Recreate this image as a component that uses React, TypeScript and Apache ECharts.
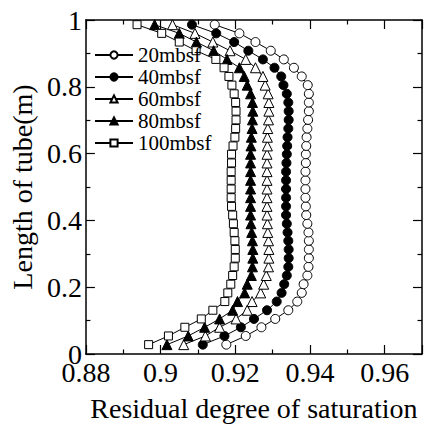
import React, { useEffect, useRef } from "react";
import * as echarts from "echarts";

const yNodes = [0.028, 0.054, 0.080, 0.105, 0.131, 0.157, 0.183, 0.209, 0.235, 0.261, 0.287, 0.313, 0.339, 0.364, 0.390, 0.416, 0.442, 0.468, 0.494, 0.520, 0.546, 0.572, 0.598, 0.623, 0.649, 0.675, 0.701, 0.727, 0.753, 0.779, 0.805, 0.831, 0.857, 0.882, 0.908, 0.934, 0.960, 0.986];

const s20 = [0.9176, 0.9228, 0.9270, 0.9307, 0.9342, 0.9366, 0.9378, 0.9383, 0.9393, 0.9396, 0.9397, 0.9397, 0.9397, 0.9396, 0.9393, 0.9390, 0.9389, 0.9388, 0.9388, 0.9388, 0.9388, 0.9389, 0.9389, 0.9390, 0.9391, 0.9393, 0.9395, 0.9397, 0.9397, 0.9397, 0.9394, 0.9378, 0.9357, 0.9330, 0.9295, 0.9254, 0.9211, 0.9145];
const s40 = [0.9113, 0.9171, 0.9215, 0.9250, 0.9285, 0.9311, 0.9324, 0.9331, 0.9338, 0.9342, 0.9343, 0.9343, 0.9342, 0.9340, 0.9338, 0.9336, 0.9336, 0.9336, 0.9336, 0.9336, 0.9336, 0.9337, 0.9338, 0.9339, 0.9340, 0.9342, 0.9343, 0.9343, 0.9342, 0.9338, 0.9329, 0.9323, 0.9305, 0.9274, 0.9235, 0.9197, 0.9149, 0.9084];
const s60 = [0.9062, 0.9120, 0.9158, 0.9202, 0.9232, 0.9245, 0.9268, 0.9276, 0.9283, 0.9289, 0.9290, 0.9290, 0.9289, 0.9287, 0.9286, 0.9285, 0.9285, 0.9285, 0.9285, 0.9285, 0.9285, 0.9285, 0.9285, 0.9286, 0.9286, 0.9287, 0.9289, 0.9290, 0.9290, 0.9288, 0.9280, 0.9274, 0.9254, 0.9228, 0.9186, 0.9140, 0.9092, 0.9032];
const s80 = [0.9017, 0.9074, 0.9118, 0.9158, 0.9193, 0.9206, 0.9225, 0.9232, 0.9243, 0.9246, 0.9247, 0.9247, 0.9246, 0.9244, 0.9242, 0.9241, 0.9241, 0.9241, 0.9241, 0.9241, 0.9241, 0.9241, 0.9241, 0.9242, 0.9243, 0.9245, 0.9246, 0.9247, 0.9246, 0.9241, 0.9232, 0.9224, 0.9211, 0.9178, 0.9142, 0.9096, 0.9050, 0.8984];
const s100 = [0.8968, 0.9021, 0.9065, 0.9109, 0.9140, 0.9172, 0.9180, 0.9188, 0.9193, 0.9197, 0.9200, 0.9200, 0.9199, 0.9197, 0.9195, 0.9193, 0.9190, 0.9189, 0.9189, 0.9189, 0.9189, 0.9190, 0.9190, 0.9194, 0.9199, 0.9201, 0.9202, 0.9202, 0.9201, 0.9197, 0.9191, 0.9183, 0.9170, 0.9148, 0.9095, 0.9050, 0.9003, 0.8937];

const seriesNames = ["20mbsf", "40mbsf", "60mbsf", "80mbsf", "100mbsf"];
const seriesValues = [s20, s40, s60, s80, s100];
const seriesSymbols = ["circle", "circle", "triangle", "triangle", "rect"];
const seriesFilled = [false, true, false, true, false];
const seriesSizes = [9, 9, 10, 10, 8];

const FONT = "Liberation Serif";

export default function App() {
  const ref = useRef<HTMLDivElement>(null);
  useEffect(() => {
    if (!ref.current) return;
    const chart = echarts.init(ref.current, undefined, { renderer: "svg" });
    const axisCommon = {
      type: "value" as const,
      axisLine: { show: true, onZero: false, lineStyle: { color: "#000", width: 1.5 } },
      axisTick: { show: true, inside: true, length: 9, lineStyle: { color: "#000", width: 1.2 } },
      minorTick: { show: true, splitNumber: 2, length: 4.5, lineStyle: { color: "#000", width: 1.2 } },
      splitLine: { show: false },
      minorSplitLine: { show: false },
    };
    const xBase = { ...axisCommon, min: 0.88, max: 0.97, interval: 0.02 };
    const yBase = { ...axisCommon, min: 0, max: 1, interval: 0.2 };
    chart.setOption({
      animation: false,
      backgroundColor: "#fff",
      textStyle: { fontFamily: FONT },
      grid: { left: 81, right: 2, top: 20, bottom: 66, containLabel: false },
      legend: {
        orient: "vertical",
        left: 94,
        top: 44,
        padding: 0,
        itemGap: 0,
        itemWidth: 38,
        itemHeight: 9,
        data: seriesNames,
        textStyle: { fontFamily: FONT, fontSize: 21, color: "#000", lineHeight: 22 },
      },
      xAxis: [
        {
          ...xBase,
          position: "bottom",
          name: "Residual degree of saturation",
          nameLocation: "middle",
          nameGap: 40,
          nameTextStyle: { fontFamily: FONT, fontSize: 28, color: "#000" },
          axisLabel: { show: true, margin: 4, fontFamily: FONT, fontSize: 28, color: "#000" },
        },
        { ...xBase, position: "top", axisLabel: { show: false } },
      ],
      yAxis: [
        {
          ...yBase,
          position: "left",
          name: "Length of tube(m)",
          nameLocation: "middle",
          nameGap: 40,
          nameTextStyle: { fontFamily: FONT, fontSize: 28, color: "#000" },
          axisLabel: { show: true, margin: 4, fontFamily: FONT, fontSize: 28, color: "#000" },
        },
        { ...yBase, position: "right", axisLabel: { show: false } },
      ],
      series: seriesNames.map((name, k) => ({
        name,
        type: "line",
        xAxisIndex: 0,
        yAxisIndex: 0,
        data: yNodes.map((y, i) => [seriesValues[k][i], y]),
        symbol: seriesSymbols[k],
        symbolSize: seriesSizes[k],
        showAllSymbol: true,
        lineStyle: { color: "#000", width: 1 },
        itemStyle: {
          color: seriesFilled[k] ? "#000" : "#fff",
          borderColor: "#000",
          borderWidth: 1,
        },
        emphasis: { disabled: true },
      })),
    });
    return () => chart.dispose();
  }, []);
  return (
    <div
      ref={ref}
      style={{ position: "fixed", left: 0, top: 0, width: 424, height: 427 }}
    />
  );
}
